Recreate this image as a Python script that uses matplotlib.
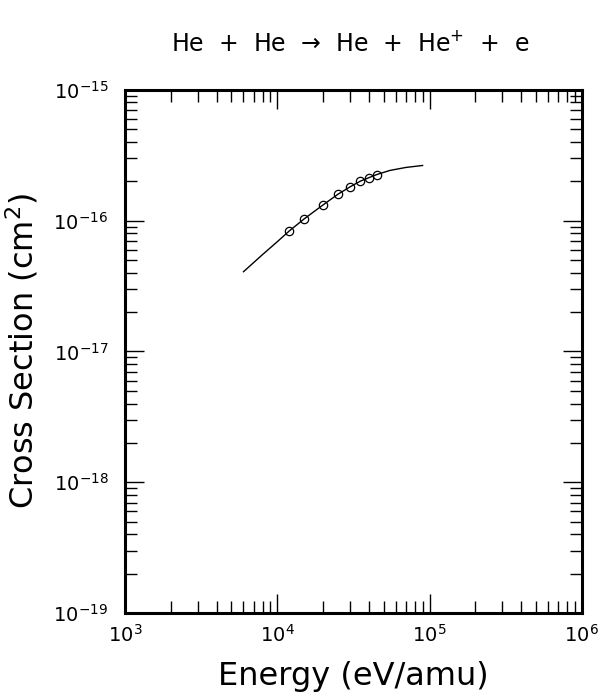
import numpy as np
import matplotlib
matplotlib.use("Agg")
import matplotlib.pyplot as plt
from matplotlib.ticker import LogLocator, NullFormatter, LogFormatterMathtext

# fitted curve (eV/amu, cm^2)
curve_energy = [6.0e3, 8.0e3, 1.0e4, 1.2e4, 1.5e4, 2.0e4, 2.5e4, 3.0e4,
                3.5e4, 4.0e4, 4.5e4, 5.5e4, 7.0e4, 9.0e4]
curve_sigma = [4.07e-17, 5.5e-17, 6.9e-17, 8.35e-17, 1.03e-16, 1.32e-16, 1.59e-16, 1.81e-16,
               2.0e-16, 2.13e-16, 2.25e-16, 2.42e-16, 2.55e-16, 2.64e-16]

# measured points
data_energy = [1.2e4, 1.5e4, 2.0e4, 2.5e4, 3.0e4, 3.5e4, 4.0e4, 4.5e4]
data_sigma = [8.35e-17, 1.03e-16, 1.32e-16, 1.59e-16, 1.81e-16, 2.0e-16, 2.13e-16, 2.25e-16]

fig = plt.figure(figsize=(5.98, 6.96), dpi=100)
ax = fig.add_axes([0.209, 0.119, 0.764, 0.752])

ax.plot(curve_energy, curve_sigma, color='k', lw=1.0)
ax.plot(data_energy, data_sigma, 'o', mfc='none', mec='k', ms=6, mew=0.9)

ax.set_xscale('log')
ax.set_yscale('log')
ax.set_xlim(1e3, 1e6)
ax.set_ylim(1e-19, 1e-15)

for a in (ax.xaxis, ax.yaxis):
    a.set_major_locator(LogLocator(base=10, numticks=10))
    a.set_minor_locator(LogLocator(base=10, subs=np.arange(2, 10), numticks=10))
    a.set_minor_formatter(NullFormatter())
    a.set_major_formatter(LogFormatterMathtext())

ax.tick_params(which='both', direction='in', top=True, right=True, width=1.0, labelsize=14)
ax.tick_params(which='major', length=14)
ax.tick_params(which='minor', length=8.5)
ax.tick_params(axis='x', pad=8)
ax.tick_params(axis='y', pad=12)
for s in ax.spines.values():
    s.set_linewidth(2.2)

ax.set_xlabel('Energy (eV/amu)', fontsize=23)
ax.set_ylabel('Cross Section (cm$^2$)', fontsize=23)
ax.xaxis.set_label_coords(0.5, -0.092)
ax.yaxis.set_label_coords(-0.185, 0.5)
fig.text(0.585, 0.938, 'He  +  He  \u2192  He  +  He$^{+}$  +  e', fontsize=17, ha='center', va='center')

fig.savefig('out.png', dpi=100)
